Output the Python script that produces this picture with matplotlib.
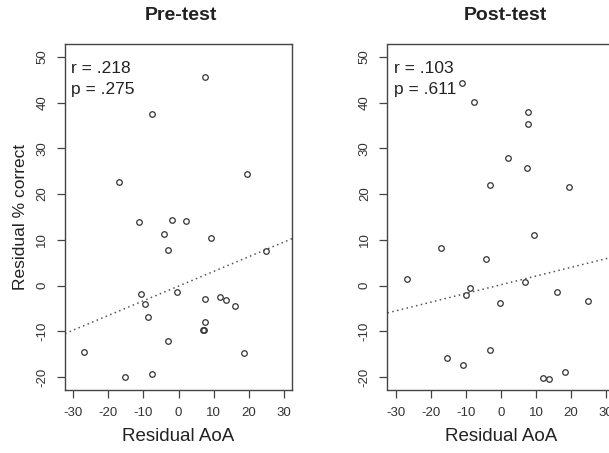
import numpy as np
import matplotlib.pyplot as plt

plt.rcParams['font.family'] = ['Liberation Sans', 'DejaVu Sans']
plt.rcParams['axes.unicode_minus'] = False

# Residual AoA (x) and residual % correct (y)
pre_x = [7.6, -7.7, -16.9, 19.6, -11.2, -1.9, 2.1, -4.1, 9.3, -2.9, 24.9,
         -10.8, -0.3, -9.7, 7.5, 11.9, 13.7, 16.2, -8.8, 7.5, 7.0, 7.3,
         -2.9, -27.0, 18.7, -15.2, -7.7]
pre_y = [45.6, 37.4, 22.7, 24.3, 13.9, 14.4, 14.2, 11.2, 10.5, 7.8, 7.6,
         -1.9, -1.4, -4.0, -2.9, -2.4, -3.2, -4.5, -6.9, -8.0, -9.7, -9.6,
         -12.0, -14.6, -14.8, -19.9, -19.3]

post_x = [-7.7, 7.7, 7.7, 2.1, 7.3, -3.0, 19.3, -11.0, -26.9, -17.1, -4.2,
          9.3, -8.9, -9.9, -0.3, 6.9, 16.0, 24.8, -15.4, -10.9, -3.0, 11.9,
          13.6, 18.4]
post_y = [40.1, 38.0, 35.4, 27.8, 25.7, 21.9, 21.5, 44.3, 1.4, 8.2, 5.9,
          11.0, -0.5, -2.1, -3.8, 0.7, -1.4, -3.4, -15.8, -17.4, -14.1, -20.1,
          -20.3, -18.9]

# regression lines (slope, intercept) as drawn
pre_fit = [0.32, -0.1]
post_fit = [0.19, 0.2]

titles = ['Pre-test', 'Post-test']
stats = [['r = .218', 'p = .275'], ['r = .103', 'p = .611']]

xticks = [-30, -20, -10, 0, 10, 20, 30]
yticks = [-20, -10, 0, 10, 20, 30, 40, 50]

fig = plt.figure(figsize=(6.09, 4.53), dpi=100)
ax1 = fig.add_axes([65/609, 1-390/453, 227/609, 346/453])
ax2 = fig.add_axes([387.5/609, 1-390/453, 227/609, 346/453])

data = [(pre_x, pre_y, pre_fit), (post_x, post_y, post_fit)]
for ax, (x, y, fit), title, st in zip([ax1, ax2], data, titles, stats):
    ax.set_xlim(-32.4, 32.4)
    ax.set_ylim(-22.8, 52.8)
    xx = np.array([-32.4, 32.4])
    ax.plot(xx, fit[0]*xx + fit[1], ':', color='#555555', lw=1.1, dashes=(1, 2.2))
    ax.plot(x, y, 'o', mfc='none', mec='#333333', ms=4, mew=0.9)
    ax.set_xticks(xticks)
    ax.set_yticks(yticks)
    ax.tick_params(direction='out', length=6, width=0.9, color='#444444',
                   labelsize=9.5, labelcolor='#333333', pad=6)
    for lab in ax.get_yticklabels():
        lab.set_rotation(90)
        lab.set_va('center')
    for s in ax.spines.values():
        s.set_color('#444444')
        s.set_linewidth(1.0)
    ax.set_xlabel('Residual AoA', fontsize=13.5, color='#222222', labelpad=7)
    ax.text(0.028, 0.93, st[0], transform=ax.transAxes, fontsize=12.5,
            color='#222222', va='center')
    ax.text(0.028, 0.868, st[1], transform=ax.transAxes, fontsize=12.5,
            color='#222222', va='center')

ax1.set_ylabel('Residual % correct', fontsize=12.5, color='#222222', labelpad=6)
fig.text(181/609, 1-16/453, titles[0], ha='center', va='center',
         fontsize=14, fontweight='bold', color='#222222')
fig.text(505/609, 1-16/453, titles[1], ha='center', va='center',
         fontsize=14, fontweight='bold', color='#222222')

fig.savefig('out.png', dpi=100)
